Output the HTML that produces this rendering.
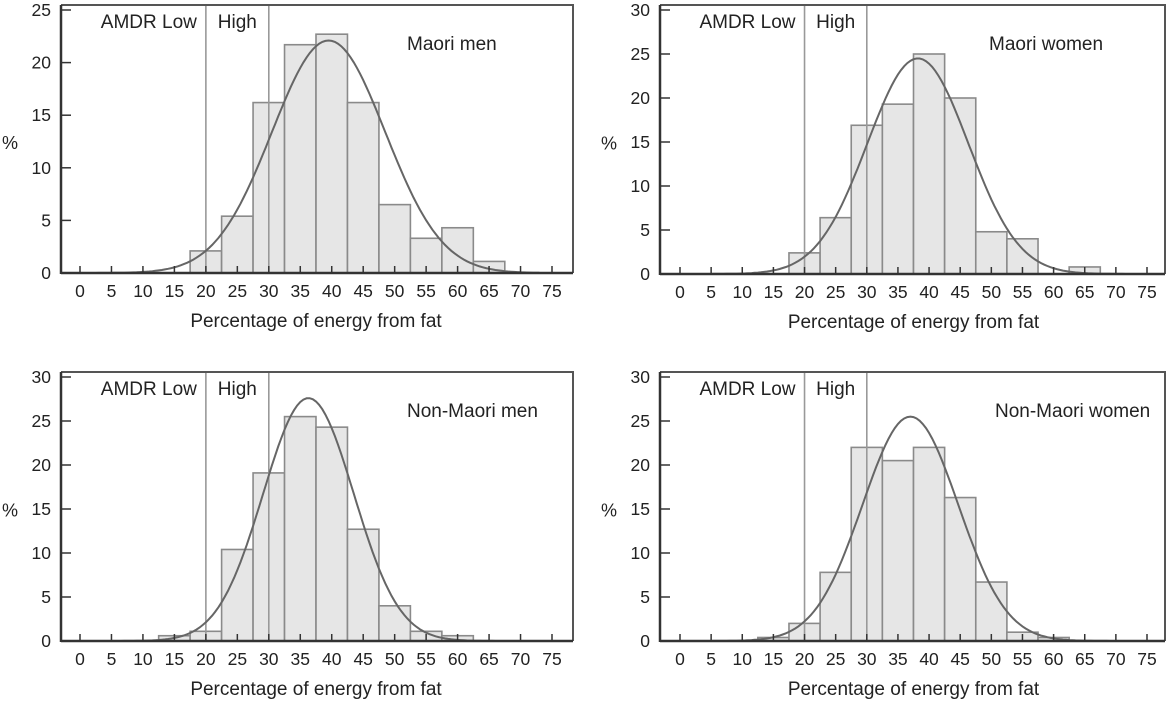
<!DOCTYPE html>
<html><head><meta charset="utf-8">
<style>
html,body{margin:0;padding:0;background:#fff;}
svg{display:block;font-family:"Liberation Sans",Arial,sans-serif;}
</style></head>
<body>
<svg id="fig" width="1170" height="702" viewBox="0 0 1170 702"></svg>
<script>
// ---- data ----
const xTicks = [0,5,10,15,20,25,30,35,40,45,50,55,60,65,70,75];
const binCentres = [10,15,20,25,30,35,40,45,50,55,60,65];
const maoriMen      = [0,0,2.1,5.4,16.2,21.7,22.7,16.2,6.5,3.3,4.3,1.1];
const maoriWomen    = [0,0,2.4,6.4,16.9,19.3,25.0,20.0,4.8,4.0,0,0.8];
const nonMaoriMen   = [0,0.6,1.1,10.4,19.1,25.5,24.3,12.7,4.0,1.1,0.6,0];
const nonMaoriWomen = [0,0.4,2.0,7.8,22.0,20.5,22.0,16.3,6.7,1.0,0.4,0];
// fitted normal curves: [mean, sd, peak %]
const curveMaoriMen = [39.5, 9.0, 22.1];
const curveMaoriWomen = [38.2, 8.1, 24.5];
const curveNonMaoriMen = [36.3, 7.2, 27.6];
const curveNonMaoriWomen = [37.0, 7.7, 25.5];
const yTicks25 = [0,5,10,15,20,25];
const yTicks30 = [0,5,10,15,20,25,30];
const amdrLines = [20, 30];

const NS = "http://www.w3.org/2000/svg";
const svg = document.getElementById('fig');
function mk(tag, attrs, parent){
  const e = document.createElementNS(NS, tag);
  for (const k in attrs) e.setAttribute(k, attrs[k]);
  (parent||svg).appendChild(e);
  return e;
}

const panels = [
  {key:'maori-men', title:'Maori men', vals:maoriMen, curve:curveMaoriMen, yt:yTicks25, ymax:25,
   left:61, right:573, top:5, bottom:273, x0:80, x75:552, titleX:407},
  {key:'maori-women', title:'Maori women', vals:maoriWomen, curve:curveMaoriWomen, yt:yTicks30, ymax:30,
   left:660, right:1165, top:5, bottom:274, x0:680, x75:1147, titleX:989},
  {key:'non-maori-men', title:'Non-Maori men', vals:nonMaoriMen, curve:curveNonMaoriMen, yt:yTicks30, ymax:30,
   left:61, right:573, top:372, bottom:641, x0:80, x75:552, titleX:407},
  {key:'non-maori-women', title:'Non-Maori women', vals:nonMaoriWomen, curve:curveNonMaoriWomen, yt:yTicks30, ymax:30,
   left:660, right:1165, top:372, bottom:641, x0:680, x75:1147, titleX:995}
];

panels.forEach(p=>{
  const g = mk('g', {});
  
  
  const yTop = p.top + 5;
  const X = v => p.x0 + (p.x75 - p.x0) * v / 75;
  const Y = v => p.bottom - (p.bottom - yTop) * v / p.ymax;

  binCentres.forEach((c,i)=>{
    const v = p.vals[i];
    if (v <= 0) return;
    const r = mk('rect', {x:X(c-2.5), y:Y(v), width:X(c+2.5)-X(c-2.5), height:p.bottom-Y(v),
      fill:'#e6e6e6', stroke:'#8a8a8a', 'stroke-width':1.6}, g);
    
    
  });

  amdrLines.forEach(a=>{
    const l = mk('line', {x1:X(a), x2:X(a), y1:p.top, y2:p.bottom, stroke:'#999', 'stroke-width':1.6}, g);
    
    
  });

  const [mu, sd, pk] = p.curve;
  let d = '';
  for (let v = 0; v <= 73; v += 0.5) {
    const yv = pk * Math.exp(-0.5 * Math.pow((v - mu) / sd, 2));
    d += (d ? 'L' : 'M') + X(v).toFixed(1) + ',' + Y(yv).toFixed(1);
  }
  const cp = mk('path', {d:d, fill:'none', stroke:'#666', 'stroke-width':2}, g);
  
  

  const box = mk('path', {d:`M${p.left},${p.top}H${p.right}V${p.bottom}`, fill:'none', stroke:'#555', 'stroke-width':2}, g);
  
  
  const yax = mk('line', {x1:p.left, x2:p.left, y1:p.top, y2:p.bottom+1, stroke:'#333', 'stroke-width':2.5}, g);
  
  
  const xax = mk('line', {x1:p.left, x2:p.right, y1:p.bottom, y2:p.bottom, stroke:'#333', 'stroke-width':2.5}, g);
  
  

  xTicks.forEach(t=>{
    mk('line', {x1:X(t), x2:X(t), y1:p.bottom, y2:p.bottom-7, stroke:'#333', 'stroke-width':1.5}, g);
    const tx = mk('text', {x:X(t), y:p.bottom+24, 'text-anchor':'middle', 'font-size':17.5, fill:'#222'}, g);
    tx.textContent = t;
    
    
  });
  p.yt.forEach(t=>{
    mk('line', {x1:p.left, x2:p.left+10, y1:Y(t), y2:Y(t), stroke:'#333', 'stroke-width':1.5}, g);
    const tx = mk('text', {x:p.left-10, y:Y(t)+6, 'text-anchor':'end', 'font-size':17.5, fill:'#222'}, g);
    tx.textContent = t;
    
    
  });

  const pct = mk('text', {x:p.left-59, y:(p.top+p.bottom)/2+10, 'font-size':18, fill:'#222'}, g);
  pct.textContent = '%';
  
  

  const xt = mk('text', {x:(p.x0+p.x75)/2, y:p.bottom+54, 'text-anchor':'middle', 'font-size':19, fill:'#222'}, g);
  xt.textContent = 'Percentage of energy from fat';
  
  

  const lo = mk('text', {x:X(20)-9, y:p.top+23, 'text-anchor':'end', 'font-size':19, fill:'#222'}, g);
  lo.textContent = 'AMDR Low';
  
  
  const hi = mk('text', {x:X(25), y:p.top+23, 'text-anchor':'middle', 'font-size':19, fill:'#222'}, g);
  hi.textContent = 'High';
  
  

  const ti = mk('text', {x:p.titleX, y:p.top+45, 'font-size':19, fill:'#222'}, g);
  ti.textContent = p.title;
  
  
});
</script>
</body></html>
